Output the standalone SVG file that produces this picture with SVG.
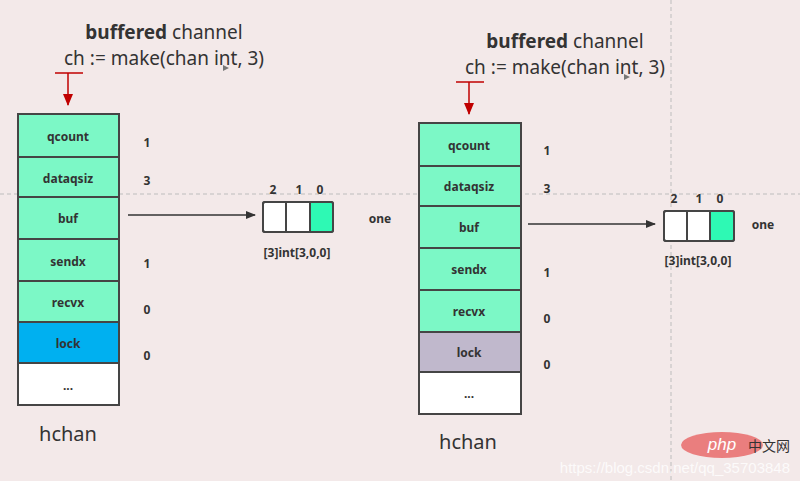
<svg xmlns="http://www.w3.org/2000/svg" width="800" height="481" viewBox="0 0 800 481">
<style>
.bg{fill:#f3e9e9}
.guide{stroke:#bdbdbd;stroke-width:1;stroke-dasharray:4 3;fill:none}
.cell{stroke:#454545;stroke-width:2}
.g{fill:#7cf8c6}
.w{fill:#ffffff}
.lbl{font-family:"Noto Sans","Open Sans",sans-serif;font-size:12px;font-weight:bold;fill:#333;text-anchor:middle;dominant-baseline:central}
.title{font-family:"Noto Sans","Open Sans",sans-serif;font-size:19px;fill:#333;text-anchor:middle;dominant-baseline:central}
.cap{font-family:"Noto Sans","Open Sans",sans-serif;font-size:20px;fill:#333;text-anchor:middle;dominant-baseline:central}
.conn{stroke:#333;stroke-width:1.5;fill:none}
.red{stroke:#c00000;stroke-width:1.5;fill:none}
</style>
<defs>
<marker id="ah" markerWidth="10" markerHeight="8" refX="9" refY="4" orient="auto" markerUnits="userSpaceOnUse"><path d="M0,0 L10,4 L0,8 z" fill="#333"/></marker>
<marker id="ahr" markerWidth="12" markerHeight="10" refX="11" refY="5" orient="auto" markerUnits="userSpaceOnUse"><path d="M0,0 L12,5 L0,10 z" fill="#c00000"/></marker>
</defs>
<rect class="bg" x="0" y="0" width="800" height="481"/>
<line class="guide" x1="0" y1="194" x2="800" y2="194"/>
<line class="guide" x1="671" y1="0" x2="671" y2="481"/>

<g id="title-left">
<text class="title" x="164" y="32"><tspan font-weight="bold">buffered</tspan> channel</text>
<text class="title" x="164" y="58">ch := make(chan int, 3)</text>
<path d="M223,65 L229,68 L223,71 z" fill="#777"/>
</g>
<g id="title-right">
<text class="title" x="565" y="41"><tspan font-weight="bold">buffered</tspan> channel</text>
<text class="title" x="565" y="67">ch := make(chan int, 3)</text>
<path d="M624,74 L630,77 L624,80 z" fill="#777"/>
</g>

<g id="hchan-left">
<rect class="cell g" x="18" y="114" width="101" height="43"/>
<rect class="cell g" x="18" y="157" width="101" height="40"/>
<rect class="cell g" x="18" y="197" width="101" height="42"/>
<rect class="cell g" x="18" y="239" width="101" height="42"/>
<rect class="cell g" x="18" y="281" width="101" height="41"/>
<rect class="cell" fill="#00b0f0" x="18" y="322" width="101" height="41"/>
<rect class="cell w" x="18" y="363" width="101" height="42"/>
<text class="lbl" x="68" y="136">qcount</text>
<text class="lbl" x="68" y="178">dataqsiz</text>
<text class="lbl" x="68" y="218">buf</text>
<text class="lbl" x="68" y="261">sendx</text>
<text class="lbl" x="68" y="302">recvx</text>
<text class="lbl" x="68" y="343">lock</text>
<text class="lbl" x="68" y="385">...</text>
<text class="lbl" x="147" y="142">1</text>
<text class="lbl" x="147" y="180">3</text>
<text class="lbl" x="147" y="263">1</text>
<text class="lbl" x="147" y="309">0</text>
<text class="lbl" x="147" y="355">0</text>
<text class="cap" x="68" y="433">hchan</text>
</g>

<g id="array-left">
<rect class="cell w" x="263" y="202" width="70" height="30" rx="2"/>
<rect x="310" y="203" width="22" height="28" fill="#2ef9b4"/>
<rect class="cell" fill="none" x="263" y="202" width="70" height="30" rx="2"/>
<line class="cell" x1="286" y1="202" x2="286" y2="232"/>
<line class="cell" x1="310" y1="202" x2="310" y2="232"/>
<text class="lbl" x="273" y="189">2</text>
<text class="lbl" x="299" y="189">1</text>
<text class="lbl" x="320" y="189">0</text>
<text class="lbl" x="380" y="218" font-size="13">one</text>
<text class="lbl" x="297" y="252">[3]int[3,0,0]</text>
</g>

<g id="hchan-right">
<rect class="cell g" x="419" y="123" width="102" height="43"/>
<rect class="cell g" x="419" y="166" width="102" height="40"/>
<rect class="cell g" x="419" y="206" width="102" height="42"/>
<rect class="cell g" x="419" y="248" width="102" height="42"/>
<rect class="cell g" x="419" y="290" width="102" height="42"/>
<rect class="cell" fill="#c0b8cc" x="419" y="332" width="102" height="40"/>
<rect class="cell w" x="419" y="372" width="102" height="42"/>
<text class="lbl" x="469" y="145">qcount</text>
<text class="lbl" x="469" y="186">dataqsiz</text>
<text class="lbl" x="469" y="227">buf</text>
<text class="lbl" x="469" y="269">sendx</text>
<text class="lbl" x="469" y="311">recvx</text>
<text class="lbl" x="469" y="352">lock</text>
<text class="lbl" x="469" y="393">...</text>
<text class="lbl" x="547" y="150">1</text>
<text class="lbl" x="547" y="188">3</text>
<text class="lbl" x="547" y="272">1</text>
<text class="lbl" x="547" y="318">0</text>
<text class="lbl" x="547" y="364">0</text>
<text class="cap" x="468" y="441">hchan</text>
</g>

<g id="array-right">
<rect class="cell w" x="664" y="211" width="70" height="30" rx="2"/>
<rect x="711" y="212" width="22" height="28" fill="#2ef9b4"/>
<rect class="cell" fill="none" x="664" y="211" width="70" height="30" rx="2"/>
<line class="cell" x1="687" y1="211" x2="687" y2="241"/>
<line class="cell" x1="710" y1="211" x2="710" y2="241"/>
<text class="lbl" x="674" y="198">2</text>
<text class="lbl" x="699" y="198">1</text>
<text class="lbl" x="720" y="198">0</text>
<text class="lbl" x="763" y="224" font-size="13">one</text>
<text class="lbl" x="698" y="260">[3]int[3,0,0]</text>
</g>

<g id="connectors">
<line class="conn" x1="128" y1="215" x2="255" y2="215" marker-end="url(#ah)"/>
<line class="conn" x1="528" y1="224" x2="655" y2="224" marker-end="url(#ah)"/>
<line class="red" x1="55" y1="73" x2="83" y2="73"/>
<line class="red" x1="68" y1="73" x2="68" y2="105" marker-end="url(#ahr)"/>
<line class="red" x1="456" y1="82" x2="484" y2="82"/>
<line class="red" x1="469" y1="82" x2="469" y2="114" marker-end="url(#ahr)"/>
</g>

<g id="watermark">
<ellipse cx="722" cy="445" rx="41" ry="13" fill="#e97272" opacity="0.9"/>
<text x="722" y="444" font-family="'Liberation Sans',sans-serif" font-style="italic" font-size="17" fill="#fff" text-anchor="middle" dominant-baseline="central">php</text>
<text x="769" y="445" font-family="'Noto Sans CJK SC',sans-serif" font-size="14" fill="#333" text-anchor="middle" dominant-baseline="central">中文网</text>
<text x="790" y="467" font-family="'Liberation Sans',sans-serif" font-size="15" fill="#ffffff" opacity="0.8" text-anchor="end" dominant-baseline="central">https://blog.csdn.net/qq_35703848</text>
</g>
</svg>
